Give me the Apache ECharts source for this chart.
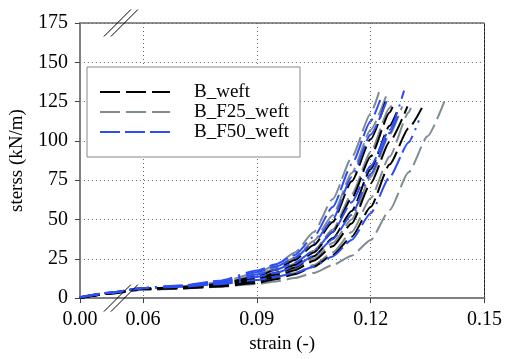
<!DOCTYPE html>
<html lang="en">
<head>
    <meta charset="UTF-8">
    <title>stress-strain weft</title>
    <script src="https://cdn.jsdelivr.net/npm/echarts@6/dist/echarts.min.js"></script>
</head>
<body style="margin:0">
<div id="myChart" style="width: 505px;height: 359px;"></div>
<script>
    // strain points shared by every curve (the last point of a curve is in the *End arrays)
    var strainGrid = [0, 0.03, 0.06, 0.07, 0.08, 0.09, 0.095, 0.10, 0.105, 0.11, 0.115, 0.12, 0.125, 0.13, 0.135];

    var bWeft = [
        [0, 3.2, 6.0, 7.0, 8.9, 13.7, 18, 24.2, 33.8, 48.4, 74.3, 101],
        [0, 3.2, 6.0, 6.8, 8.5, 12.5, 16, 21, 29, 42, 63.5, 90, 118],
        [0, 3.1, 5.9, 6.6, 8.2, 11.6, 15, 19.5, 26.6, 38, 55.4, 82, 109.6],
        [0, 3.1, 5.9, 6.4, 7.8, 10.7, 13.5, 17.7, 23.7, 33, 47.5, 73, 99.5],
        [0, 3.0, 5.8, 6.2, 7.3, 9.6, 12, 15.2, 20, 27.4, 39, 58, 85, 108]
    ];
    var bWeftEnd = [[0.1239, 125], [0.1262, 124], [0.1272, 120], [0.1297, 122], [0.1335, 121]];

    var bF25Weft = [
        [0, 3.0, 5.6, 7.5, 10, 16, 21, 29, 42, 63, 89.5, 117.5],
        [0, 3.0, 5.6, 7.0, 9.2, 14.5, 19, 25.8, 36.4, 52.7, 79.6, 107],
        [0, 3.0, 5.5, 6.8, 8.6, 12.8, 16.4, 21.8, 30.2, 43.6, 66, 93, 121],
        [0, 3.0, 5.5, 6.5, 8.0, 11, 14, 18.5, 25, 35, 50, 77, 104],
        [0, 2.9, 5.4, 6.3, 7.5, 10, 12.5, 16, 21, 29, 42, 63.5, 90, 118],
        [0, 2.9, 5.3, 6.0, 7.2, 9, 10.5, 12.8, 16, 21, 27, 37, 56, 80, 103]
    ];
    var bF25WeftEnd = [[0.1222, 131], [0.1243, 130], [0.1262, 126], [0.1283, 122], [0.1306, 121], [0.1394, 125]];

    var bF50Weft = [
        [0.5, 3.6, 6.5, 8.0, 11, 17.5, 21.5, 27.4, 39, 58, 85, 112.5],
        [0.5, 3.6, 6.5, 7.8, 10.5, 16.5, 20, 25.5, 35, 50, 77, 104],
        [0.5, 3.5, 6.4, 7.6, 10, 15, 18, 22.5, 30, 42, 61, 84, 107],
        [0.5, 3.5, 6.4, 7.5, 9.5, 13.5, 16, 20, 27, 37.5, 53, 79, 105],
        [0.5, 3.4, 6.3, 7.2, 8.8, 11.5, 13.5, 16, 20, 26.5, 37, 54, 77, 99]
    ];
    var bF50WeftEnd = [[0.1225, 126], [0.1243, 126], [0.1288, 132], [0.1275, 118], [0.1327, 113]];

    var xTicks = [0, 0.06, 0.09, 0.12, 0.15];

    // broken x axis: 0 .. 0.06 is squeezed
    var xBreak = 0.06, squeeze = 0.277;
    function toAxis(x) {
        return x < xBreak ? x * squeeze : xBreak * squeeze + (x - xBreak);
    }

    var font = '"Liberation Serif", "Times New Roman", serif';
    var groups = [
        {name: 'B_F25_weft', curves: bF25Weft, ends: bF25WeftEnd, color: '#7f8c92', dash: [20, 6]},
        {name: 'B_weft', curves: bWeft, ends: bWeftEnd, color: '#000000', dash: [20, 6]},
        {name: 'B_F50_weft', curves: bF50Weft, ends: bF50WeftEnd, color: '#2d4ef2', dash: [20, 5, 20, 5, 20, 6, 2, 6]}
    ];

    var series = [];
    groups.forEach(function (g) {
        g.curves.forEach(function (c, i) {
            var pts = c.map(function (v, j) { return [toAxis(strainGrid[j]), v]; });
            pts.push([toAxis(g.ends[i][0]), g.ends[i][1]]);
            series.push({
                name: g.name,
                type: 'line',
                symbol: 'none',
                smooth: 0.2,
                smoothMonotone: 'x',
                lineStyle: {color: g.color, width: 2, type: g.dash},
                itemStyle: {color: g.color},
                data: pts
            });
        });
    });

    var myChart = echarts.init(document.getElementById('myChart'));
    var option = {
        animation: false,
        textStyle: {fontFamily: font, color: '#000'},
        grid: {
            left: 73, right: 18, top: 23, bottom: 52,
            show: true, borderColor: '#222', borderWidth: 1
        },
        legend: {
            data: ['B_weft', 'B_F25_weft', 'B_F50_weft'],
            orient: 'vertical',
            left: 87, top: 67,
            padding: [15, 11, 15, 12],
            backgroundColor: '#fff',
            borderColor: '#888',
            borderWidth: 1,
            itemWidth: 70,
            itemHeight: 12,
            itemGap: 0,
            itemStyle: {opacity: 0},
            textStyle: {fontFamily: font, fontSize: 19, lineHeight: 20, color: '#000', padding: [0, 0, 0, 19]}
        },
        xAxis: {
            type: 'value',
            min: 0,
            max: toAxis(0.15),
            name: 'strain (-)',
            nameLocation: 'middle',
            nameGap: 33,
            nameTextStyle: {fontFamily: font, fontSize: 19, color: '#000'},
            axisLine: {lineStyle: {color: '#808080', width: 2}},
            axisTick: {show: true, length: 5, lineStyle: {color: '#444'}, customValues: xTicks.map(toAxis)},
            axisLabel: {
                fontFamily: font, fontSize: 20, color: '#000', margin: 12,
                customValues: xTicks.map(toAxis),
                formatter: function (v) {
                    for (var i = 0; i < xTicks.length; i++) {
                        if (Math.abs(toAxis(xTicks[i]) - v) < 1e-6) return xTicks[i].toFixed(2);
                    }
                    return '';
                }
            },
            splitLine: {show: true, lineStyle: {color: '#666', type: [1, 3], width: 1}}
        },
        yAxis: {
            type: 'value',
            min: 0,
            max: 175,
            interval: 25,
            name: 'sterss (kN/m)',
            nameLocation: 'middle',
            nameGap: 46,
            nameTextStyle: {fontFamily: font, fontSize: 19, color: '#000'},
            axisLine: {show: true, lineStyle: {color: '#808080', width: 2}},
            axisTick: {show: true, length: 5, lineStyle: {color: '#444'}},
            axisLabel: {fontFamily: font, fontSize: 20, color: '#000', margin: 12},
            splitLine: {show: true, lineStyle: {color: '#666', type: [1, 3], width: 1}}
        },
        series: series
    };
    myChart.setOption(option);

    // "//" break marks on top and bottom edges
    var xb = toAxis(0.039);
    var upper = myChart.convertToPixel({gridIndex: 0}, [xb, 175]);
    var lower = myChart.convertToPixel({gridIndex: 0}, [xb, 0]);
    var marks = [];
    [upper, lower].forEach(function (p) {
        [-3.5, 3.5].forEach(function (dx) {
            marks.push({
                type: 'line',
                shape: {x1: p[0] + dx - 13.5, y1: p[1] + 13.5, x2: p[0] + dx + 13.5, y2: p[1] - 13.5},
                style: {stroke: '#000', lineWidth: 1},
                z: 100
            });
        });
    });
    myChart.setOption({graphic: marks});
</script>
</body>
</html>
